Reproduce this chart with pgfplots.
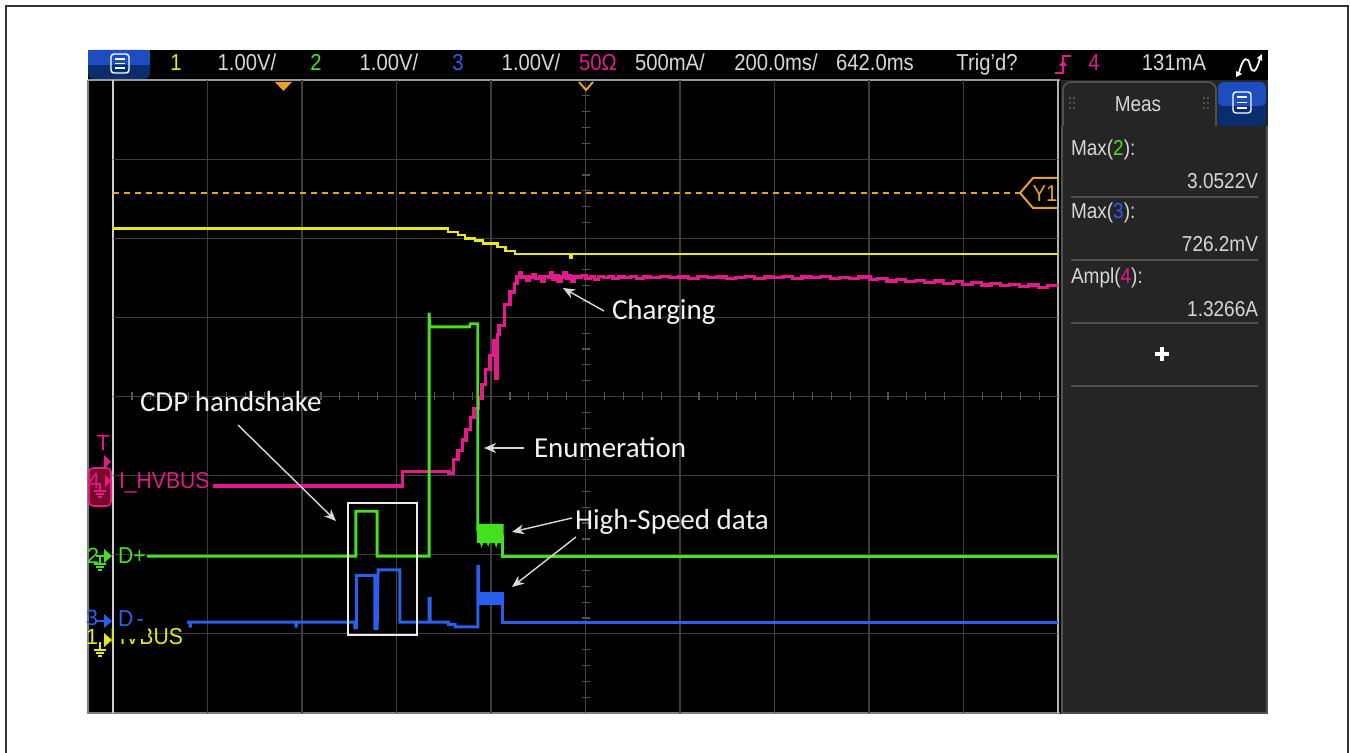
\documentclass[border=0pt]{standalone}
\usepackage{fontspec}
\setmainfont{Liberation Sans}
\newfontfamily\calib{Carlito}
\usepackage{graphicx}
\usepackage{pgfplots}
\pgfplotsset{compat=1.18}
\usetikzlibrary{arrows.meta}

\definecolor{ylw}{RGB}{232,232,20}
\definecolor{grn}{RGB}{70,225,30}
\definecolor{blu}{RGB}{40,95,235}
\definecolor{mag}{RGB}{228,25,140}
\definecolor{orng}{RGB}{232,160,40}
\definecolor{gridc}{RGB}{62,62,62}
\definecolor{tickc}{RGB}{85,85,85}
\definecolor{txt}{RGB}{215,215,215}
\definecolor{panel}{RGB}{37,37,37}
\definecolor{pborder}{RGB}{80,80,80}
\definecolor{btnhi}{RGB}{30,78,190}
\definecolor{btnlo}{RGB}{10,45,110}
\definecolor{darkred}{RGB}{120,10,40}
\definecolor{framec}{RGB}{50,50,50}

\newcommand{\sz}[1]{\fontsize{#1}{#1}\selectfont}
\newcommand{\scp}[1]{\scalebox{0.88}[1]{#1}}
% ground symbol: colour, x, y (top of stem)
\newcommand{\gnd}[3]{%
  \draw[#1, line width=0.6pt] (#2,#3) -- (#2,#3+8);
  \draw[#1, line width=0.6pt] (#2-6,#3+8) -- (#2+6,#3+8);
  \draw[#1, line width=0.6pt] (#2-4,#3+11) -- (#2+4,#3+11);
  \draw[#1, line width=0.6pt] (#2-2,#3+14) -- (#2+2,#3+14);}

\begin{document}
\begin{tikzpicture}
% ---------- frame, screen, bars (pixel units) ----------
\begin{scope}[x=0.5pt,y=-0.5pt,every node/.style={inner sep=0pt,outer sep=0pt}]
\useasboundingbox (0,0) rectangle (1350,753);
\fill[white] (0,0) rectangle (1350,753);
\draw[framec, line width=1.1pt] (6,753) -- (6,6) -- (1348,6) -- (1348,753);
\fill[black] (88,50) rectangle (1268,714);
\draw[gray, line width=0.8pt] (88,80) -- (88,713) -- (1060,713);
\draw[gray!80, line width=1pt] (88,80) -- (1060,80);
\draw[white!80!black, line width=0.9pt] (113,80) -- (113,713);
\draw[white!70!black, line width=0.9pt] (1058,80) -- (1058,713);

% menu button top left
\fill[btnlo, rounded corners=3pt] (88,50) rectangle (150,79);
\fill[btnhi] (88,50) rectangle (150,65);
\draw[white, line width=0.7pt, rounded corners=1.5pt] (111,54) rectangle (129,73);
\foreach \yy in {59,63.5,68} \draw[white, line width=0.7pt] (115,\yy) -- (125,\yy);

% top bar texts
\begin{scope}[every node/.append style={font=\sz{11.5}, text=txt, anchor=base}]
\node[text=ylw] at (176,71) {\scp{1}};
\node at (247,71) {\scp{1.00V/}};
\node[text=grn] at (316,71) {\scp{2}};
\node at (389,71) {\scp{1.00V/}};
\node[text=blu] at (458,71) {\scp{3}};
\node at (531,71) {\scp{1.00V/}};
\node[text=mag] at (598,71) {\scp{50Ω}};
\node at (670,71) {\scp{500mA/}};
\node at (776,71) {\scp{200.0ms/}};
\node at (875,71) {\scp{642.0ms}};
\node at (987,71) {\scp{Trig'd?}};
\node[text=mag] at (1094,71) {\scp{4}};
\node at (1174,71) {\scp{131mA}};
\end{scope}
% trigger edge symbol
\draw[mag, line width=1pt] (1055,73) -- (1063,73) -- (1063,56) -- (1071,56);
\fill[mag] (1059,66) -- (1063,60) -- (1067,66) -- cycle;
% wave icon
\draw[white, line width=0.9pt] (1239,73) .. controls (1243,56) and (1248,56) .. (1250,65)
      .. controls (1252,74) and (1256,74) .. (1260,58);
\fill[white] (1257,58) -- (1262,54) -- (1262,61) -- cycle;
\fill[white] (1236,71) -- (1242,74) -- (1236,77) -- cycle;

% right measurement panel
\fill[panel] (1061,80) rectangle (1268,714);
\draw[pborder, line width=0.8pt] (1062,126) -- (1062,713) -- (1267,713) -- (1267,126);
\draw[pborder, line width=0.8pt, fill=panel, rounded corners=4pt] (1063,126) -- (1063,82) -- (1216,82) -- (1216,126);
\fill[btnlo, rounded corners=3pt] (1218,82) rectangle (1266,126);
\fill[btnhi, rounded corners=3pt] (1218,82) rectangle (1266,106);
\fill[btnhi] (1218,96) rectangle (1266,103);
\draw[white, line width=0.7pt, rounded corners=1.5pt] (1233,92) rectangle (1251,113);
\foreach \yy in {97,102.5,108} \draw[white, line width=0.7pt] (1237,\yy) -- (1247,\yy);
\foreach \xx in {1070,1074,1204,1208} \foreach \yy in {98,103,108} \fill[gray] (\xx,\yy) circle (0.9);
\begin{scope}[every node/.append style={font=\sz{10.8}, text=txt}]
\node at (1138,104) {\scp{Meas}};
\node[anchor=west] at (1071,150) {\scp{Max(\textcolor{grn}{2}):}};
\node[anchor=east] at (1258,181) {\scp{3.0522V}};
\node[anchor=west] at (1071,213) {\scp{Max(\textcolor{blu}{3}):}};
\node[anchor=east] at (1258,244) {\scp{726.2mV}};
\node[anchor=west] at (1071,278) {\scp{Ampl(\textcolor{mag}{4}):}};
\node[anchor=east] at (1258,309) {\scp{1.3266A}};
\end{scope}
\foreach \yy in {197,260,323,386} \draw[pborder, line width=0.9pt] (1071,\yy) -- (1258,\yy);
\draw[white, line width=2pt] (1155,354) -- (1169,354);
\draw[white, line width=2pt] (1162,347) -- (1162,361);

% minor ticks on centre lines
\foreach \i in {1,...,39} \draw[tickc, line width=0.6pt] (581.5,80+\i*15.825) -- (589.5,80+\i*15.825);
\foreach \i in {1,...,49} \draw[tickc, line width=0.6pt] (113+\i*18.9,392.5) -- (113+\i*18.9,400.5);
\end{scope}

% ---------- scope graticule and traces: x in ms, y in divisions ----------
\begin{axis}[at={(56.5pt,-356.5pt)}, anchor=south west,
  scale only axis, width=472.5pt, height=316.5pt,
  xmin=-358, xmax=1642, ymin=-4, ymax=4,
  xtick={-158,42,242,442,642,842,1042,1242,1442},
  ytick={-3,-2,-1,0,1,2,3},
  xticklabels={}, yticklabels={}, major tick length=0pt,
  grid=major, major grid style={gridc, line width=0.6pt},
  axis line style={draw=none}, clip=true]

% ch1 VBUS (yellow)
\addplot[const plot, ylw, line width=1.4pt] coordinates {
(-358,2.12) (351,2.08) (372,2.04) (387,2.00) (408,1.97) (425,1.93)
(455,1.89) (472,1.84) (493,1.80) (607,1.80) (609,1.75) (612,1.80) (1642,1.80)};

% ch4 I_HVBUS (magenta)
\addplot[const plot, mag, line width=1.6pt] coordinates {
(-146,-1.13) (254,-0.95) (353,-0.97) (362,-0.80) (372,-0.68) (381,-0.55)
(389,-0.42) (398,-0.27) (406,-0.15) (415,-0.02) (423,0.15) (431,0.34)
(440,0.52) (448,0.71) (452,0.23) (455,0.78) (459,0.90) (470,1.16) (482,1.32) (491,1.43)
(497,1.51) (503,1.56) (506,1.50) (512,1.52) (518,1.47) (524,1.51) (531,1.54)
(537,1.49) (544,1.52) (550,1.46) (556,1.52) (563,1.50) (569,1.57) (573,1.48)
(578,1.53) (584,1.45) (590,1.51) (596,1.56) (601,1.49) (607,1.53) (613,1.46)
(619,1.51) (626,1.50) (634,1.53) (643,1.49) (652,1.51) (661,1.48) (670,1.52)
(680,1.50) (690,1.52) (700,1.49) (712,1.51) (725,1.50) (738,1.52) (750,1.49)
(765,1.51) (780,1.50) (800,1.52) (820,1.50) (840,1.51) (860,1.49) (880,1.52)
(900,1.50) (920,1.51) (940,1.49) (960,1.50) (980,1.52) (1000,1.49) (1020,1.51)
(1040,1.50) (1060,1.52) (1080,1.49) (1100,1.51) (1120,1.50) (1140,1.52)
(1160,1.49) (1180,1.50) (1200,1.49) (1220,1.51) (1244,1.48) (1260,1.49)
(1280,1.46) (1300,1.48) (1320,1.45) (1340,1.47) (1360,1.44) (1380,1.46)
(1400,1.43) (1420,1.45) (1440,1.42) (1460,1.44) (1480,1.41) (1500,1.43)
(1520,1.40) (1540,1.42) (1560,1.39) (1580,1.41) (1600,1.38) (1620,1.40) (1642,1.38)};

% ch2 D+ (green)
\addplot[grn, line width=1.4pt] coordinates {
(-286,-2.02) (156,-2.02) (156,-1.45) (201,-1.45) (201,-2.02) (311,-2.02)
(311,1.06) (313,0.88) (397,0.88) (398,0.92) (414,0.92) (414,-1.70)};
\addplot[grn, fill=grn, line width=0.8pt] coordinates {
(414,-1.62) (467,-1.62) (467,-1.84) (455,-1.84) (453,-1.88) (451,-1.84)
(438,-1.84) (436,-1.87) (434,-1.84) (424,-1.84) (422,-1.88) (420,-1.84) (414,-1.84)} -- cycle;
\addplot[grn, line width=1.4pt] coordinates {(467,-1.75) (467,-2.02) (1642,-2.02)};

% ch3 D- (blue)
\addplot[blu, line width=1.5pt] coordinates {
(-201,-2.85) (-195,-2.85) (-195,-2.92) (-193,-2.85) (29,-2.85) (29,-2.92) (31,-2.85)
(154,-2.85) (154,-2.92) (157,-2.92) (157,-2.26) (196,-2.26) (196,-2.93)
(201,-2.93) (203,-2.19) (249,-2.19) (249,-2.85) (311,-2.85) (311,-2.55)
(313,-2.55) (313,-2.85) (352,-2.85) (352,-2.88) (366,-2.88) (366,-2.91)
(414,-2.91) (414,-2.15) (416,-2.15) (416,-2.50)};
\addplot[blu, fill=blu, line width=0.8pt] coordinates {
(416,-2.48) (467,-2.48) (467,-2.63) (416,-2.63)} -- cycle;
\addplot[blu, line width=1.5pt] coordinates {(467,-2.60) (467,-2.85) (1642,-2.85)};
\end{axis}

% ---------- overlays: channel labels, cursor, annotations ----------
\begin{scope}[x=0.5pt,y=-0.5pt,every node/.style={inner sep=0pt,outer sep=0pt}]
% cursor Y1
\draw[orng, line width=1pt, dash pattern=on 3pt off 2.5pt] (113,193) -- (1020,193);
\draw[orng, line width=1pt] (1058,178) -- (1033,178) -- (1020,193) -- (1033,208) -- (1058,208);
\node[text=orng, font=\sz{11.5}] at (1045,194) {\scp{Y1}};
% trigger position markers
\fill[orng] (275,82) -- (292,82) -- (283.5,91) -- cycle;
\draw[orng, line width=1pt] (579,82) -- (586,90) -- (593,82);

% channel 4 marker
\node[text=mag, font=\sz{11}] at (103,443) {T};
\fill[mag] (104,455) -- (111,462) -- (104,469) -- cycle;
\draw[mag, fill=darkred, line width=0.8pt, rounded corners=2pt] (89,468) rectangle (111,506);
\node[text=mag, font=\sz{11}] at (94,481) {4};
\gnd{mag}{100}{483}
\fill[mag] (105,475) -- (111,481) -- (105,487) -- cycle;
\node[anchor=west, text=mag, font=\sz{11.5}] at (119,483) {\scalebox{0.92}[1]{I\_HVBUS}};
% channel 2 marker
\node[text=grn, font=\sz{11}] at (93,556) {2};
\draw[grn, line width=0.6pt] (96,556) -- (104,556);
\gnd{grn}{100}{556}
\fill[grn] (104,549) -- (112,556) -- (104,563) -- cycle;
\node[anchor=west, text=grn, font=\sz{11.5}] at (118,556) {\scalebox{0.92}[1]{D+}};
% channel 1 label, partly hidden behind ch3 label
\node[anchor=east, text=ylw, font=\sz{11.5}] at (183,637) {\scalebox{0.92}[1]{HVBUS}};
\fill[black] (114,604) rectangle (148,639);
\node[text=ylw, font=\sz{11}] at (92,637) {1};
\gnd{ylw}{100}{642}
\fill[ylw] (104,633) -- (112,640) -- (104,647) -- cycle;
% channel 3 marker
\fill[black] (89,609) rectangle (100,627);
\node[text=blu, font=\sz{11}] at (92,618) {3};
\fill[blu] (104,614) -- (112,621) -- (104,628) -- cycle;
\draw[blu, line width=0.6pt] (96,621) -- (104,621);
\node[anchor=west, text=blu, font=\sz{11.5}] at (118,619) {\scalebox{0.92}[1]{D\,-}};

% annotations
\draw[white!92!black, line width=1pt] (348,503) rectangle (417,635);
\begin{scope}[every node/.append style={font=\calib\sz{14.5}, text=white!95!black, anchor=west}]
\node at (140,402) {CDP handshake};
\node at (612,312) {Charging};
\node at (534,448) {Enumeration};
\node at (575,522) {High-Speed data};
\end{scope}
\begin{scope}[white!85!black, line width=0.7pt, -{Stealth[length=6pt,width=5pt]}]
\draw (238,425) -- (336,521);
\draw (604,311) -- (563,288);
\draw (524,448) -- (484,448);
\draw (572,518) -- (512,532);
\draw (576,537) -- (512,587);
\end{scope}
\end{scope}
\end{tikzpicture}
\end{document}
